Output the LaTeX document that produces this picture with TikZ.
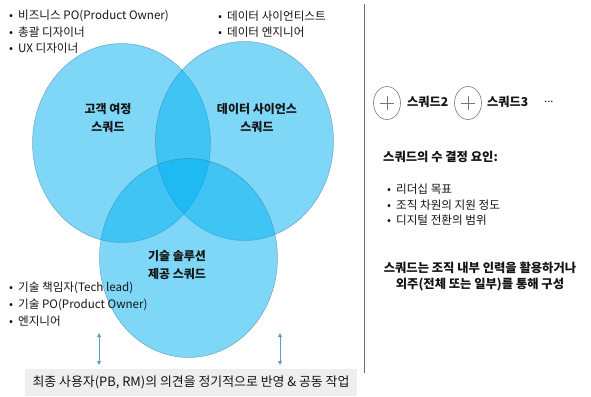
\documentclass[tikz,border=0pt]{standalone}
\usepackage{fontspec}
\setmainfont{Noto Sans CJK KR}
\usetikzlibrary{shapes.geometric,arrows.meta}
\definecolor{vennblue}{RGB}{0,176,240}
\definecolor{vennedge}{RGB}{60,110,150}
\definecolor{txt}{RGB}{20,20,20}
\definecolor{barfill}{RGB}{238,238,238}
\definecolor{arrowblue}{RGB}{91,155,213}
\definecolor{sepgray}{RGB}{110,110,110}
\definecolor{plusgray}{RGB}{120,120,120}
\tikzset{
  venn/.style={ellipse, fill=vennblue, fill opacity=0.5, draw=vennedge, draw opacity=0.55, line width=0.5pt, minimum width=178pt, minimum height=199pt, inner sep=0pt},
  bul/.style={anchor=west, inner sep=0pt, text=txt, font=\fontsize{11.6}{13}\selectfont},
  vlabel/.style={align=center, inner sep=0pt, text=txt, font=\fontsize{12}{18}\selectfont\bfseries},
  plusc/.style={ellipse, draw=plusgray, line width=0.6pt, minimum width=27pt, minimum height=33pt, inner sep=0pt},
  sq/.style={anchor=west, inner sep=0pt, text=txt, font=\fontsize{12.2}{14}\selectfont\bfseries},
  uarrow/.style={draw=arrowblue, line width=0.8pt, {Triangle[length=4pt,width=4pt]}-{Triangle[length=4pt,width=4pt]}}
}
\begin{document}
\begin{tikzpicture}[x=1pt,y=-1pt]
\useasboundingbox (0,0) rectangle (591,396);
% Venn
\node[venn] (L) at (121.5,143) {};
\node[venn] (R) at (244.5,141) {};
\node[venn] (B) at (188.5,258) {};
\node[vlabel] (Lt) at (108,118) {고객 여정\\스쿼드};
\node[vlabel] (Rt) at (257,118) {데이터 사이언스\\스쿼드};
\node[vlabel] (Bt) at (177,265) {기술 솔루션\\제공 스쿼드};
% top-left bullets
\node[bul] (a1) at (9,16) {•\hspace{5pt}비즈니스 PO(Product Owner)};
\node[bul] (a2) at (9,32.5) {•\hspace{5pt}총괄 디자이너};
\node[bul] (a3) at (9,48.5) {•\hspace{5pt}UX 디자이너};
% top-middle bullets
\node[bul] (b1) at (218,16) {•\hspace{5pt}데이터 사이언티스트};
\node[bul] (b2) at (218,32.5) {•\hspace{5pt}데이터 엔지니어};
% bottom-left bullets
\node[bul] (c1) at (9,288) {•\hspace{5pt}기술 책임자(Tech lead)};
\node[bul] (c2) at (9,304.5) {•\hspace{5pt}기술 PO(Product Owner)};
\node[bul] (c3) at (9,321) {•\hspace{5pt}엔지니어};
% arrows
\coordinate (u1t) at (99,333);
\coordinate (u1b) at (99,365);
\coordinate (u2t) at (280,333);
\coordinate (u2b) at (280,365);
\draw[uarrow] (u1t) -- (u1b);
\draw[uarrow] (u2t) -- (u2b);
% bottom bar
\node[fill=barfill, minimum width=332pt, minimum height=27pt, inner sep=0pt, text=txt, font=\fontsize{12.9}{14}\selectfont] (bar) at (191,382.5) {최종 사용자(PB, RM)의 의견을 정기적으로 반영 \& 공동 작업};
% separator
\coordinate (s1) at (364.5,4);
\coordinate (s2) at (364.5,373);
\draw[sepgray, line width=0.8pt] (s1) -- (s2);
% right side
\node[plusc] (p1) at (387,103) {};
\draw[plusgray, line width=0.6pt] ([xshift=-7pt]p1.center) -- ([xshift=7pt]p1.center) ([yshift=-7pt]p1.center) -- ([yshift=7pt]p1.center);
\node[sq] (q2) at (407,102) {스쿼드2};
\node[plusc] (p2) at (468,103) {};
\draw[plusgray, line width=0.6pt] ([xshift=-7pt]p2.center) -- ([xshift=7pt]p2.center) ([yshift=-7pt]p2.center) -- ([yshift=7pt]p2.center);
\node[sq] (q3) at (487,102) {스쿼드3};
\node[sq, font=\fontsize{11}{12}\selectfont] (dots) at (544,102) {...};
\node[sq, font=\fontsize{12.3}{14}\selectfont\bfseries] (det) at (383,157) {스쿼드의 수 결정 요인:};
\node[bul] (d1) at (387,189) {•\hspace{5pt}리더십 목표};
\node[bul] (d2) at (387,205) {•\hspace{5pt}조직 차원의 지원 정도};
\node[bul] (d3) at (387,220.5) {•\hspace{5pt}디지털 전환의 범위};
\node[vlabel, font=\fontsize{12.3}{16}\selectfont\bfseries] (out) at (480,277) {스쿼드는 조직 내부 인력을 활용하거나\\외주(전체 또는 일부)를 통해 구성};
\end{tikzpicture}
\end{document}
